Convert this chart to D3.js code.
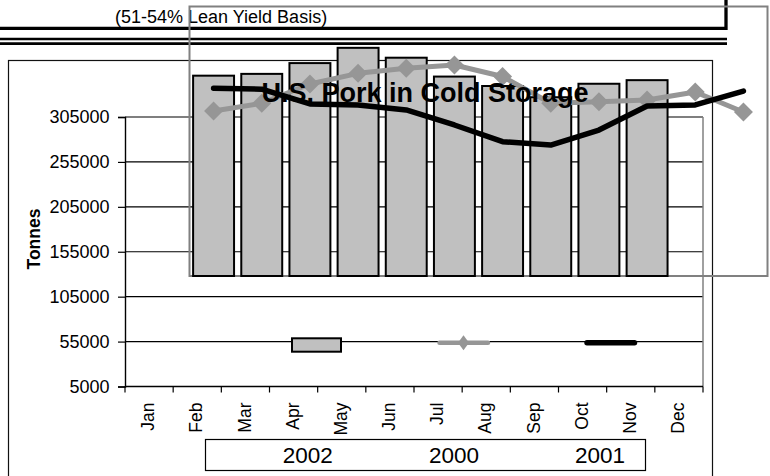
<!DOCTYPE html>
<html><head><meta charset="utf-8">
<script src="https://cdn.jsdelivr.net/npm/d3@7"></script>
<style>body{margin:0;background:#fff} svg{display:block} text{font-family:"Liberation Sans",Arial,sans-serif;fill:#000}</style>
</head><body><svg id="c" width="770" height="476"></svg>
<script>
// ---- data ----
const months = ["Jan","Feb","Mar","Apr","May","Jun","Jul","Aug","Sep","Oct","Nov","Dec"];
const months2002 = ["Jan","Feb","Mar","Apr","May","Jun","Jul","Aug","Sep","Oct"];
const values2002 = [228000,230000,242000,259000,248000,227000,216500,204000,219000,223000];
const values2000 = [188700,197250,218700,230600,236200,239900,227100,197250,199000,200900,209800,187600];
const values2001 = [214000,213000,196500,195400,189800,173100,154500,150800,167500,194200,195400,210900];
const yTicks = [5000,55000,105000,155000,205000,255000,305000];
const seriesNames = ["2002","2000","2001"];
const titleText = "U.S. Pork in Cold Storage";
const subtitleText = "(51-54% Lean Yield Basis)";
const yTitle = "Tonnes";

// ---- layout ----
const P = {left:125, right:703, top:117, bottom:386.5};
const shift = {dx:64.5, dy:-110.5};
const GRAY_LINE = "#969696", BAR_FILL = "#c0c0c0", FRAME_GRAY = "#808080";

const svg = d3.select("#c");
const x = d3.scaleBand().domain(months).range([P.left,P.right]).paddingInner(0.15).paddingOuter(0.075);
const xEdge = d3.scaleLinear().domain([0,months.length]).range([P.left,P.right]);
const y = d3.scaleLinear().domain([5000,305000]).range([P.bottom,P.top]);
const cx = m => x(m) + x.bandwidth()/2;

function diamond(hw, hh){ return `M0,${-hh}L${hw},0L0,${hh}L${-hw},0Z`; }

// ---- top decorations ----
svg.append("text").attr("x",115).attr("y",22.5).attr("font-size",18).text(subtitleText);
svg.append("path").attr("d","M0,28.3H726V0").attr("fill","none").attr("stroke","#000").attr("stroke-width",3.3);
[39,43.7].forEach(yy=>svg.append("line").attr("x1",0).attr("x2",727).attr("y1",yy).attr("y2",yy).attr("stroke","#000").attr("stroke-width",2.7));

// chart border
svg.append("rect").attr("x",8.5).attr("y",60.5).attr("width",704).attr("height",440)
  .attr("fill","none").attr("stroke","#111").attr("stroke-width",1.2);

// ---- main plot: gridlines ----
svg.append("g").selectAll("line").data(yTicks).join("line")
  .attr("x1",P.left).attr("x2",P.right).attr("y1",d=>y(d)).attr("y2",d=>y(d))
  .attr("stroke","#000").attr("stroke-width",1.2);
// right border gray
svg.append("line").attr("x1",P.right).attr("x2",P.right).attr("y1",P.top).attr("y2",P.bottom)
  .attr("stroke",FRAME_GRAY).attr("stroke-width",1.5);

// y axis
const yAxis = d3.axisLeft(y).tickValues(yTicks).tickSize(7).tickPadding(8.5).tickFormat(d3.format("d"));
const gy = svg.append("g").attr("transform",`translate(${P.left},0)`).call(yAxis);
gy.select(".domain").attr("stroke","#000").attr("stroke-width",1.4);
gy.selectAll(".tick line").attr("stroke","#000").attr("stroke-width",1.2);
gy.selectAll(".tick text").attr("font-size",18).attr("font-family",'"Liberation Sans",Arial,sans-serif').attr("fill","#000");

// x axis
svg.append("line").attr("x1",P.left).attr("x2",P.right).attr("y1",P.bottom).attr("y2",P.bottom).attr("stroke","#000").attr("stroke-width",1.4);
svg.append("g").selectAll("line").data(d3.range(months.length+1)).join("line")
  .attr("x1",d=>xEdge(d)).attr("x2",d=>xEdge(d)).attr("y1",P.bottom).attr("y2",P.bottom+6)
  .attr("stroke","#000").attr("stroke-width",1.2);
svg.append("g").selectAll("text").data(months).join("text")
  .attr("transform",d=>`translate(${cx(d)-1},${P.bottom+16}) rotate(-90)`)
  .attr("text-anchor","end").attr("dy","0.35em").attr("font-size",17.5).text(d=>d);

// y title
svg.append("text").attr("transform","translate(40,239) rotate(-90)").attr("text-anchor","middle")
  .attr("font-size",17.5).attr("font-weight","bold").text(yTitle);

// ---- legend keys (displaced into plot) ----
const keyY = 342.7;
svg.append("rect").attr("x",292).attr("y",338.3).attr("width",49).attr("height",13.4)
  .attr("fill",BAR_FILL).attr("stroke","#000").attr("stroke-width",2);
svg.append("line").attr("x1",439.5).attr("x2",488).attr("y1",keyY).attr("y2",keyY)
  .attr("stroke",GRAY_LINE).attr("stroke-width",4.5).attr("stroke-linecap","round");
svg.append("path").attr("d",diamond(5.5,7.5)).attr("transform",`translate(463.5,${keyY})`).attr("fill",GRAY_LINE);
svg.append("line").attr("x1",587).attr("x2",634.5).attr("y1",keyY).attr("y2",keyY)
  .attr("stroke","#000").attr("stroke-width",5.5).attr("stroke-linecap","round");

// legend box
svg.append("rect").attr("x",205.5).attr("y",439.5).attr("width",440).attr("height",31)
  .attr("fill","#fff").attr("stroke","#000").attr("stroke-width",1.2);
const legX = [307.7,454,600];
svg.append("g").selectAll("text").data(seriesNames).join("text")
  .attr("x",(d,i)=>legX[i]).attr("y",462.5).attr("text-anchor","middle").attr("font-size",22.5).text(d=>d);

// ---- displaced plot area ----
const g2 = svg.append("g").attr("transform",`translate(${shift.dx},${shift.dy})`);
g2.append("rect").attr("x",P.left).attr("y",P.top).attr("width",P.right-P.left).attr("height",P.bottom-P.top)
  .attr("fill","none").attr("stroke",FRAME_GRAY).attr("stroke-width",2);
g2.append("g").selectAll("rect").data(months2002.map((m,i)=>({m,v:values2002[i]}))).join("rect")
  .attr("x",d=>x(d.m)).attr("width",x.bandwidth())
  .attr("y",d=>y(d.v)).attr("height",d=>y(5000)-y(d.v))
  .attr("fill",BAR_FILL).attr("stroke","#000").attr("stroke-width",2);
const line = d3.line().x(d=>cx(d.m)).y(d=>y(d.v));
const d2000 = months.map((m,i)=>({m,v:values2000[i]}));
const d2001 = months.map((m,i)=>({m,v:values2001[i]}));
g2.append("path").datum(d2000).attr("d",line).attr("fill","none").attr("stroke",GRAY_LINE)
  .attr("stroke-width",5).attr("stroke-linejoin","round").attr("stroke-linecap","round");
g2.append("g").selectAll("path").data(d2000).join("path").attr("d",diamond(9.5,9.5))
  .attr("transform",d=>`translate(${cx(d.m)},${y(d.v)})`).attr("fill",GRAY_LINE);
g2.append("path").datum(d2001).attr("d",line).attr("fill","none").attr("stroke","#000")
  .attr("stroke-width",5.5).attr("stroke-linejoin","round").attr("stroke-linecap","round");

// title
svg.append("text").attr("x",425).attr("y",102).attr("text-anchor","middle")
  .attr("font-size",27).attr("font-weight","bold").text(titleText);
</script></body></html>
